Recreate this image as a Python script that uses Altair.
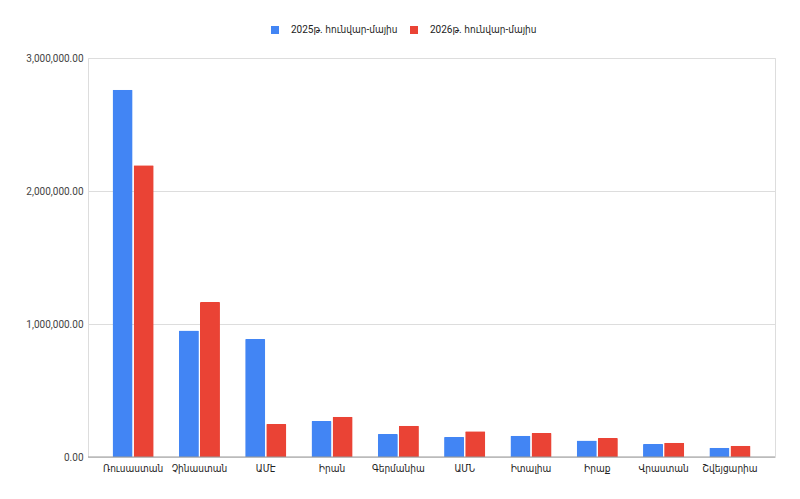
import altair as alt
import pandas as pd

countries = ["Ռուսաստան", "Չինաստան", "ԱՄԷ", "Իրան", "Գերմանիա", "ԱՄՆ", "Իտալիա", "Իրաք", "Վրաստան", "Շվեյցարիա"]
series = ["2025թ. հունվար-մայիս", "2026թ. հունվար-մայիս"]
v2025 = [2762000, 952000, 887000, 270000, 173000, 150000, 160000, 125000, 98000, 70000]
v2026 = [2193000, 1165000, 248000, 303000, 235000, 193000, 180000, 143000, 108000, 85000]
y_ticks = [0, 1000000, 2000000, 3000000]

rows = []
for c, a, b in zip(countries, v2025, v2026):
    rows.append({"country": c, "series": series[0], "value": a})
    rows.append({"country": c, "series": series[1], "value": b})
df = pd.DataFrame(rows)

FONT = "Roboto, 'DejaVu Sans Condensed', sans-serif"

bars = alt.Chart(df).mark_bar(cornerRadiusTopLeft=1, cornerRadiusTopRight=1).encode(
    x=alt.X("country:N", sort=countries, title=None,
            scale=alt.Scale(paddingInner=0.38, paddingOuter=0.37),
            axis=alt.Axis(labelAngle=0, ticks=False, domain=False, grid=False, labelPadding=6,
                          labelFontSize=10, labelColor="#222222", labelFont=FONT)),
    xOffset=alt.XOffset("series:N", sort=series, scale=alt.Scale(paddingInner=0.05)),
    y=alt.Y("value:Q", title=None,
            scale=alt.Scale(domain=[0, 3000000], nice=False),
            axis=alt.Axis(values=y_ticks, format=",.2f", ticks=False, domain=False,
                          labelPadding=5, labelFontSize=10, labelColor="#444444",
                          labelFont=FONT, gridColor="#dddddd")),
    color=alt.Color("series:N", sort=series,
                    scale=alt.Scale(domain=series, range=["#4285F4", "#EA4335"]),
                    legend=alt.Legend(title=None, orient="none", direction="horizontal",
                                      legendX=182, legendY=-33, symbolType="square",
                                      symbolSize=64, symbolStrokeWidth=0,
                                      labelFontSize=10, labelFont=FONT, labelColor="#222222",
                                      labelOffset=11, columnPadding=11)),
)

base = alt.Chart(pd.DataFrame({"y": [0]})).mark_rule(color="#999999", strokeWidth=1).encode(
    y="y:Q"
)

chart = alt.layer(bars, base).properties(
    width=687, height=399,
    autosize=alt.AutoSizeParams(type="none"),
    padding={"left": 80, "top": 50, "right": 17, "bottom": 34},
).configure_view(stroke="transparent", strokeWidth=0).configure(font=FONT)

chart.save("out.html", embed_options={"renderer": "svg", "actions": False})
